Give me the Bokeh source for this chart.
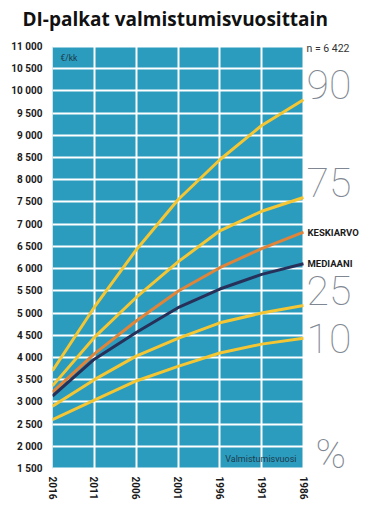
import math
from bokeh.plotting import figure
from bokeh.models import Range1d, FixedTicker, Label, BoxAnnotation
from bokeh.embed import file_html
from bokeh.resources import INLINE

# ---- data ----
years = [2016, 2011, 2006, 2001, 1996, 1991, 1986]
p90 = [3700, 5130, 6420, 7550, 8450, 9220, 9800]
p75 = [3360, 4450, 5350, 6150, 6850, 7290, 7600]
keskiarvo = [3220, 4080, 4820, 5490, 6020, 6450, 6820]
mediaani = [3130, 3960, 4560, 5120, 5540, 5870, 6110]
p25 = [2900, 3500, 4030, 4430, 4780, 5000, 5170]
p10 = [2600, 3040, 3470, 3800, 4100, 4300, 4430]

y_ticks = list(range(1500, 11001, 500))
y_tick_labels = ["1 500", "2 000", "2 500", "3 000", "3 500", "4 000", "4 500",
                 "5 000", "5 500", "6 000", "6 500", "7 000", "7 500", "8 000",
                 "8 500", "9 000", "9 500", "10 000", "10 500", "11 000"]
x_tick_labels = ["2016", "2011", "2006", "2001", "1996", "1991", "1986"]

title_text = "DI-palkat valmistumisvuosittain"
unit_text = "€/kk"
xlabel_text = "Valmistumisvuosi"
n_text = "n = 6 422"
pct_names = ["90", "75", "25", "10"]
pct_series = [p90, p75, p25, p10]

TEAL = "#2b9cbe"
YELLOW = "#f5c633"
ORANGE = "#e0843a"
NAVY = "#263059"
GRAY = "#7f8892"
DARK = "#1a1a1a"

# layout (pixels)
W, H = 370, 512
LEFT = 52
CHART_W, CHART_H = 251, 424        # size of the teal chart area
CHART_TOP = 44                     # top of the teal area on the page
PAD_TOP, PAD_BOTTOM = 12, 2        # extra frame room around the teal area
EXTRA = W - LEFT - CHART_W         # room on the right for the labels
xspan = years[0] - years[-1]
x_end = years[-1] - xspan * EXTRA / CHART_W
yspan = y_ticks[-1] - y_ticks[0]
y_start = y_ticks[0] - yspan * PAD_BOTTOM / CHART_H
y_end = y_ticks[-1] + yspan * PAD_TOP / CHART_H
TOP = CHART_TOP - PAD_TOP
BOTTOM = H - TOP - CHART_H - PAD_TOP - PAD_BOTTOM

BIG = 41                            # size of the big percentile numerals
BIG_HALF = round(BIG * 0.711 / 2)   # half of their digit height

p = figure(width=W, height=H,
           x_range=Range1d(years[0], x_end),
           y_range=Range1d(y_start, y_end),
           output_backend="svg", toolbar_location=None,
           min_border_left=LEFT, min_border_right=0,
           min_border_top=TOP, min_border_bottom=BOTTOM)

p.background_fill_color = "white"
p.border_fill_color = "white"
p.outline_line_color = None

p.add_layout(BoxAnnotation(left=years[-1], right=years[0],
                           bottom=y_ticks[0], top=y_ticks[-1],
                           fill_color=TEAL, fill_alpha=1,
                           line_color=None, level="image"))

p.title.text = title_text
p.title.text_font = "Open Sans"
p.title.text_font_size = "19px"
p.title.text_font_style = "bold"
p.title.text_color = "#111111"
p.title.offset = -30
p.title.standoff = 18 - PAD_TOP

p.xaxis.ticker = FixedTicker(ticks=years)
p.yaxis.ticker = FixedTicker(ticks=y_ticks)
p.xaxis.major_label_overrides = {y: l for y, l in zip(years, x_tick_labels)}
p.yaxis.major_label_overrides = {t: l for t, l in zip(y_ticks, y_tick_labels)}
for ax in (p.xaxis[0], p.yaxis[0]):
    ax.axis_line_color = None
    ax.major_tick_line_color = None
    ax.minor_tick_line_color = None
    ax.major_label_text_font = "Roboto"
    ax.major_label_text_font_style = "bold"
    ax.major_label_text_font_size = "10px"
    ax.major_label_text_color = DARK
p.yaxis.major_label_standoff = 4
p.xaxis.major_label_standoff = 0
p.xaxis.major_label_orientation = -math.pi / 2

for g in (p.xgrid[0], p.ygrid[0]):
    g.grid_line_color = "white"
    g.grid_line_width = 2
    g.grid_line_alpha = 1
p.ygrid[0].bounds = (years[-1], years[0])
p.xgrid[0].bounds = (y_ticks[0], y_ticks[-1])

for s in (p10, p25, p75, p90):
    p.line(years, s, line_color=YELLOW, line_width=3, line_join="round")
p.line(years, keskiarvo, line_color=ORANGE, line_width=3, line_join="round")
p.line(years, mediaani, line_color=NAVY, line_width=3, line_join="round")

# in-chart texts
p.add_layout(Label(x=years[0], y=y_ticks[-1], x_offset=8, y_offset=-12,
                   text=unit_text, text_font="Roboto", text_font_size="8.5px",
                   text_color="#1d3a4c", text_baseline="middle"))
p.add_layout(Label(x=years[-1], y=y_ticks[0], x_offset=-7, y_offset=10,
                   text=xlabel_text, text_font="Roboto", text_font_size="9px",
                   text_color="#1d3a4c", text_align="right", text_baseline="middle"))
p.add_layout(Label(x=years[-1], y=y_ticks[-1], x_offset=3, y_offset=-2,
                   text=n_text, text_font="Roboto", text_font_size="10.5px",
                   text_color="#333333", text_baseline="middle"))

# right side labels: digits sit with their foot on the line end
for name, s in zip(pct_names, pct_series):
    yoff = BIG_HALF - (15 if name == "10" else 0)
    p.add_layout(Label(x=years[-1], y=s[-1], x_offset=3, y_offset=yoff,
                       text=name, text_font="Roboto Thin, Roboto Light, Roboto",
                       text_font_size=f"{BIG}px", text_color=GRAY,
                       text_baseline="middle"))
p.add_layout(Label(x=years[-1], y=y_ticks[0], x_offset=12, y_offset=BIG_HALF,
                   text="%", text_font="Roboto Thin, Roboto Light, Roboto",
                   text_font_size=f"{BIG}px", text_color=GRAY,
                   text_baseline="middle"))
p.add_layout(Label(x=years[-1], y=keskiarvo[-1], x_offset=4,
                   text="KESKIARVO", text_font="Roboto", text_font_style="bold",
                   text_font_size="9.5px", text_color=DARK, text_baseline="middle"))
p.add_layout(Label(x=years[-1], y=mediaani[-1], x_offset=4,
                   text="MEDIAANI", text_font="Roboto", text_font_style="bold",
                   text_font_size="9.5px", text_color=DARK, text_baseline="middle"))

open("out.html", "w").write(file_html(p, INLINE))
